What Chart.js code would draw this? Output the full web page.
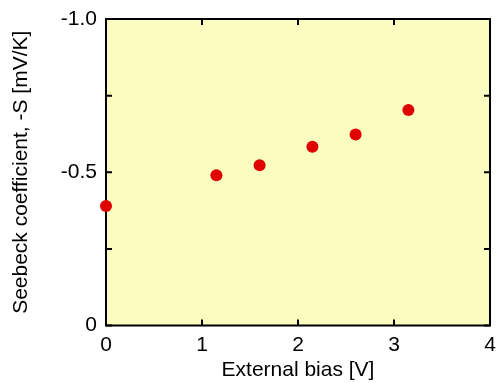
<!DOCTYPE html>
<html>
<head>
<meta charset="utf-8">
<script src="https://cdn.jsdelivr.net/npm/chart.js@4/dist/chart.umd.min.js"></script>
<style>
html,body{margin:0;padding:0;background:#fff;}
#wrap{width:500px;height:383px;}
</style>
</head>
<body>
<div id="wrap"><canvas id="c" width="500" height="383"></canvas></div>
<script>
const biasV = [0, 1.15, 1.6, 2.15, 2.6, 3.15];
const seebeck = [-0.39, -0.49, -0.523, -0.583, -0.623, -0.703];
const xTicks = [0, 1, 2, 3, 4];
const yTicks = [-1.0, -0.75, -0.5, -0.25, 0];
const yLabels = {"-1": "-1.0", "-0.5": "-0.5", "0": "0"};

const points = biasV.map((x, i) => ({x: x, y: seebeck[i]}));
const FONT = {family: "'Liberation Sans', Arial, sans-serif", size: 21};

const frame = {
  id: 'frame',
  beforeDatasetsDraw(chart) {
    const {ctx, chartArea: a, scales} = chart;
    ctx.save();
    ctx.fillStyle = '#FBFCC0';
    ctx.fillRect(a.left, a.top, a.right - a.left, a.bottom - a.top);
    ctx.strokeStyle = '#000';
    ctx.lineWidth = 2;
    const L = 6;
    ctx.beginPath();
    xTicks.forEach(v => {
      const px = scales.x.getPixelForValue(v);
      ctx.moveTo(px, a.bottom); ctx.lineTo(px, a.bottom - L);
      ctx.moveTo(px, a.top); ctx.lineTo(px, a.top + L);
    });
    yTicks.forEach(v => {
      const py = scales.y.getPixelForValue(v);
      ctx.moveTo(a.left, py); ctx.lineTo(a.left + L, py);
      ctx.moveTo(a.right, py); ctx.lineTo(a.right - L, py);
    });
    ctx.stroke();
    ctx.strokeRect(a.left, a.top, a.right - a.left, a.bottom - a.top);
    ctx.restore();
  }
};

new Chart(document.getElementById('c'), {
  type: 'scatter',
  data: {
    datasets: [{
      data: points,
      backgroundColor: '#E00000',
      borderColor: '#E00000',
      pointRadius: 6,
      pointHoverRadius: 6,
      borderWidth: 0,
      clip: false
    }]
  },
  options: {
    responsive: false,
    animation: false,
    events: [],
    layout: {padding: {left: 0, top: 19, right: 10, bottom: 0}},
    plugins: {legend: {display: false}, tooltip: {enabled: false}},
    scales: {
      x: {
        type: 'linear',
        min: 0, max: 4,
        afterBuildTicks: s => { s.ticks = xTicks.map(v => ({value: v})); },
        afterFit: s => { s.height = 57.5; s.paddingLeft = 0; s.paddingRight = 0; },
        grid: {display: false, drawTicks: false},
        border: {display: false},
        ticks: {color: '#000', font: FONT, padding: 7, maxRotation: 0,
          callback: v => String(v)},
        title: {display: true, text: 'External bias [V]', color: '#000', font: FONT, padding: {top: 0, bottom: 0}}
      },
      y: {
        type: 'linear',
        min: -1, max: 0,
        reverse: true,
        afterBuildTicks: s => { s.ticks = yTicks.map(v => ({value: v})); },
        afterFit: s => { s.width = 106; s.paddingTop = 0; s.paddingBottom = 0; },
        grid: {display: false, drawTicks: false},
        border: {display: false},
        ticks: {color: '#000', font: FONT, padding: 9,
          callback: v => (yLabels[String(v)] !== undefined ? yLabels[String(v)] : '')},
        title: {display: true, text: 'Seebeck coefficient, -S [mV/K]', color: '#000', font: FONT, padding: {top: 9, bottom: 0}}
      }
    }
  },
  plugins: [frame]
});
</script>
</body>
</html>
